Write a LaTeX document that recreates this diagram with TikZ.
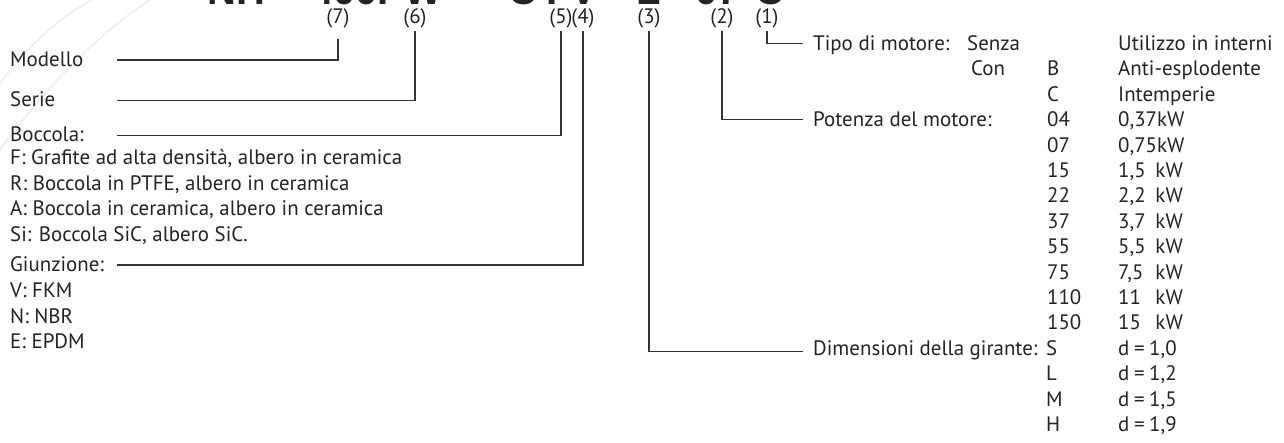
\documentclass[tikz,border=0pt]{standalone}
\usepackage{fontspec}
\setmainfont{PT Sans}
\newfontfamily\titlefont{Liberation Sans}
\definecolor{txt}{HTML}{232323}
\definecolor{ln}{HTML}{333333}
\definecolor{wmark}{HTML}{EEEEEE}
\newlength\reflen
\begin{document}
\settowidth{\reflen}{\fontsize{10pt}{12pt}\selectfont F: Grafite ad alta densità, albero in ceramica}%
\pgfmathsetmacro{\fsz}{10*392/\reflen}%
\begin{tikzpicture}[x=1pt,y=-1pt]
\tikzset{
  lbl/.style={font=\fontsize{\fsz pt}{\fsz pt}\selectfont, text=txt, inner sep=0pt, anchor=base west},
  num/.style={lbl, anchor=base},
  kw/.style={lbl, anchor=base east},
  conn/.style={draw=ln, line width=1.1pt},
  ttl/.style={font=\titlefont\bfseries\fontsize{40pt}{40pt}\selectfont, text=txt, inner sep=0pt, text depth=0pt, anchor=base west},
  wm/.style={draw=wmark, line width=1.6pt}
}
\useasboundingbox (0,0) rectangle (1284,442);
% faint watermark arcs
\draw[wm] (0,84) .. controls (22,52) and (55,20) .. (92,0);
\draw[wm] (0,150) .. controls (40,95) and (95,35) .. (150,0);
% cut-off title
\begin{scope}
\clip (0,0) rectangle (1284,442);
\node[ttl] (t1) at (207,4) {NH-};
\node[ttl] (t2) at (311,4) {400PW-};
\node[ttl] (t3) at (508,4) {C-};
\node[ttl] (t4) at (546,4) {FV-};
\node[ttl] (t5) at (636,4) {L-};
\node[ttl] (t6) at (695,4) {07-};
\node[ttl] (t7) at (755,4) {C};
\end{scope}
% position labels
\node[num] (p7) at (338,23) {(7)};
\node[num] (p6) at (415,23) {(6)};
\node[num] (p5) at (561,23) {(5)};
\node[num] (p4) at (583,23) {(4)};
\node[num] (p3) at (649,23) {(3)};
\node[num] (p2) at (722,23) {(2)};
\node[num] (p1) at (767,23) {(1)};
% left list
\node[lbl] (modello) at (10,66.5) {Modello};
\node[lbl] (serie) at (10,106) {Serie};
\node[lbl] (boccola) at (10,141) {Boccola:};
\node[lbl] (bF) at (10,164.5) {F: Grafite ad alta densità, albero in ceramica};
\node[lbl] (bR) at (10,190) {R: Boccola in PTFE, albero in ceramica};
\node[lbl] (bA) at (10,215.5) {A: Boccola in ceramica, albero in ceramica};
\node[lbl] (bSi) at (10,241.5) {Si: Boccola SiC, albero SiC.};
\node[lbl] (giunz) at (10,271) {Giunzione:};
\node[lbl] (gV) at (10,297.5) {V: FKM};
\node[lbl] (gN) at (10,323) {N: NBR};
\node[lbl] (gE) at (10,348.5) {E: EPDM};
\coordinate (e7) at (117,60);
\coordinate (e6) at (117,100.5);
\coordinate (e5) at (117,135.5);
\coordinate (e4) at (117,265);
\draw[conn] ([yshift=-11pt]p7.south) |- (e7);
\draw[conn] ([yshift=-3pt]p6.south) |- (e6);
\draw[conn] ([yshift=-3pt]p5.south) |- (e5);
\draw[conn] ([yshift=-3pt]p4.south) |- (e4);
% right block
\node[lbl] (tipo) at (813,50.5) {Tipo di motore:};
\node[lbl] (senza) at (967,50.5) {Senza};
\node[lbl] (utiliz) at (1118,50.5) {Utilizzo in interni};
\node[lbl] (con) at (971,75.9) {Con};
\node[lbl] (cB) at (1047,75.9) {B};
\node[lbl] (vB) at (1118,75.9) {Anti-esplodente};
\node[lbl] (cC) at (1047,101.3) {C};
\node[lbl] (vC) at (1118,101.3) {Intemperie};
\node[lbl] (poten) at (813,126.7) {Potenza del motore:};
\foreach \i/\c/\v/\k in {0/04/{0,37kW}/, 1/07/{0,75kW}/, 2/15/{1,5}/kW, 3/22/{2,2}/kW, 4/37/{3,7}/kW, 5/55/{5,5}/kW, 6/75/{7,5}/kW, 7/110/11/kW, 8/150/15/kW}{
  \pgfmathsetmacro{\yy}{126.7+25.4*\i}
  \node[lbl] (pc\i) at (1047,\yy) {\c};
  \node[lbl] (pv\i) at (1118,\yy) {\v};
  \node[kw] (pk\i) at (1183,\yy) {\k};
}
\node[lbl] (dimen) at (813,355.3) {Dimensioni della girante:};
\foreach \i/\c/\v in {0/S/{1,0}, 1/L/{1,2}, 2/M/{1,5}, 3/H/{1,9}}{
  \pgfmathsetmacro{\yy}{355.3+25.4*\i}
  \node[lbl] (dc\i) at (1046,\yy) {\c};
  \node[lbl] (dv\i) at (1118,\yy) {d\hspace{0.22em}=\hspace{0.22em}\v};
}
\draw[conn] ([yshift=-3pt]p1.south) |- ([xshift=-10pt,yshift=7pt]tipo.base west);
\draw[conn] ([yshift=-3pt]p2.south) |- ([xshift=-10pt,yshift=7pt]poten.base west);
\draw[conn] ([yshift=-3pt]p3.south) |- ([xshift=-10pt,yshift=4pt]dimen.base west);
\end{tikzpicture}
\end{document}
